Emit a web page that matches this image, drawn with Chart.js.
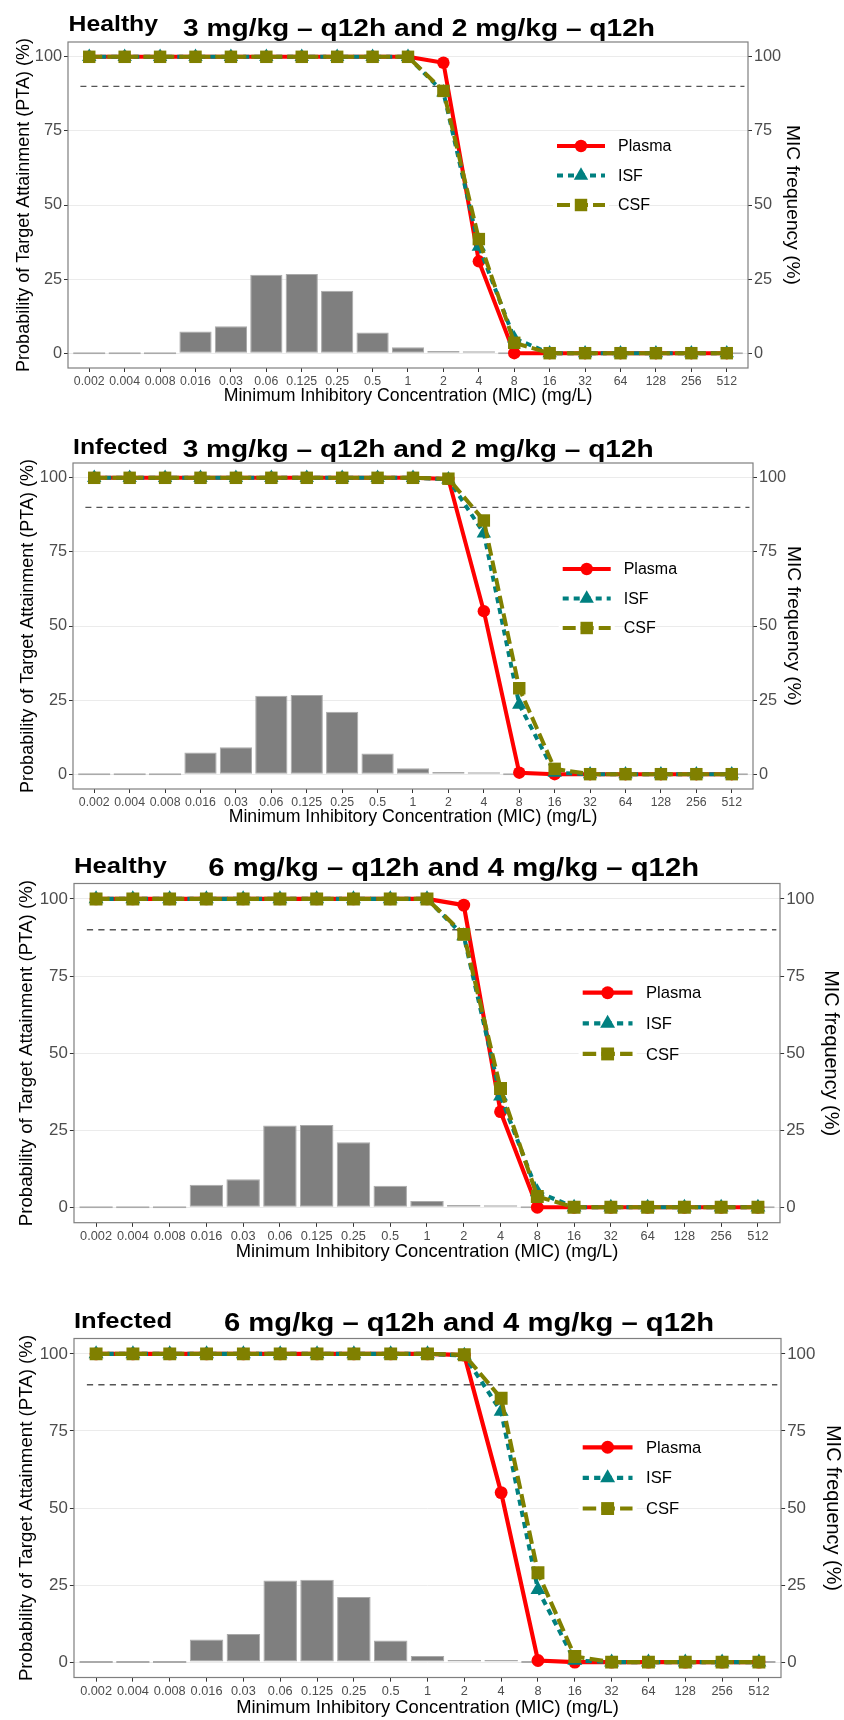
<!DOCTYPE html>
<html>
<head>
<meta charset="utf-8">
<title>PTA vs MIC</title>
<script src="https://cdn.jsdelivr.net/npm/chart.js@4.4.1/dist/chart.umd.min.js"></script>
<style>
  html, body { margin: 0; padding: 0; background: #fff; }
  #page { position: relative; width: 844px; height: 1720px; overflow: hidden; }
  .panel { position: absolute; left: 0; width: 844px; }
  .panel canvas { display: block; }
</style>
</head>
<body>
<div id="page"></div>
<script>
// MIC classes on the x axis (mg/L)
const micLabels = ['0.002', '0.004', '0.008', '0.016', '0.03', '0.06', '0.125', '0.25', '0.5',
  '1', '2', '4', '8', '16', '32', '64', '128', '256', '512'];

// Tick labels of both y axes
const yTicks = [0, 25, 50, 75, 100];

// PTA target
const targetPTA = 90;

// MIC frequency distribution (%) - same in every panel
const micFrequency = [0, 0, 0, 7.3, 9.1, 26.5, 26.7, 21.1, 7.0, 2.0, 0.7, 0.3, 0, 0, 0, 0, 0, 0, 0];

// PTA (%) - healthy
const healthyPlasma = [100, 100, 100, 100, 100, 100, 100, 100, 100, 100, 98, 31, 0, 0, 0, 0, 0, 0, 0];
const healthyISF = [100, 100, 100, 100, 100, 100, 100, 100, 100, 100, 88, 36, 5, 0, 0, 0, 0, 0, 0];
const healthyCSF = [100, 100, 100, 100, 100, 100, 100, 100, 100, 100, 88.5, 38.5, 3.5, 0, 0, 0, 0, 0, 0];

// PTA (%) - infected
const infectedPlasma = [100, 100, 100, 100, 100, 100, 100, 100, 100, 100, 99.6, 55, 0.5, 0, 0, 0, 0, 0, 0];
const infectedISF = [100, 100, 100, 100, 100, 100, 100, 100, 100, 100, 99.5, 81.3, 23.5, 0.5, 0, 0, 0, 0, 0];
const infectedCSF = [100, 100, 100, 100, 100, 100, 100, 100, 100, 100, 99.7, 85.6, 29, 1.8, 0, 0, 0, 0, 0];

// Panels (top to bottom)
const panelGroups = ['Healthy', 'Infected', 'Healthy', 'Infected'];
const panelRegimens = ['3 mg/kg – q12h and 2 mg/kg – q12h', '3 mg/kg – q12h and 2 mg/kg – q12h',
  '6 mg/kg – q12h and 4 mg/kg – q12h', '6 mg/kg – q12h and 4 mg/kg – q12h'];
const panelSeries = [
  [healthyPlasma, healthyISF, healthyCSF],
  [infectedPlasma, infectedISF, infectedCSF],
  [healthyPlasma, healthyISF, healthyCSF],
  [infectedPlasma, infectedISF, infectedCSF]
];
const seriesNames = ['Plasma', 'ISF', 'CSF'];

// Styles
const FONT = '"Liberation Sans", Arial, sans-serif';
const W = 844;
const LINE_W = 4;
const seriesStyles = [
  { color: '#ff0000', dash: [], pointStyle: 'circle', radius: 6.2 },
  { color: '#008080', dash: [6, 5], pointStyle: 'triangle', radius: 8.3 },
  { color: '#808000', dash: [13, 5], pointStyle: 'rect', radius: 8.8 }
];

// Where each panel sits on the page
const panelBoxes = [
  { top: 0, height: 410, L: 68, R: 748, T: 42, B: 368, f: 1,
    tag: { x: 68.6, base: 31, w: 89.4 }, main: { x: 183, base: 35.5, w: 472 },
    yTitleX: 24, y2TitleX: 792, xTitleY: 396.5, legend: { x: 557, y: 146 } },
  { top: 410, height: 420, L: 73, R: 753, T: 463, B: 789, f: 1,
    tag: { x: 73, base: 454, w: 95 }, main: { x: 182.7, base: 457.3, w: 471 },
    yTitleX: 28.5, y2TitleX: 793, xTitleY: 817.5, legend: { x: 562.7, y: 569 } },
  { top: 830, height: 435, L: 74, R: 780, T: 883.5, B: 1222.7, f: 1.038,
    tag: { x: 74, base: 873.3, w: 92.7 }, main: { x: 208.3, base: 876, w: 490.7 },
    yTitleX: 26.7, y2TitleX: 830.7, xTitleY: 1252, legend: { x: 582.7, y: 992.7 } },
  { top: 1265, height: 455, L: 74, R: 781, T: 1338.5, B: 1677.5, f: 1.038,
    tag: { x: 74, base: 1328.3, w: 98 }, main: { x: 224, base: 1330.7, w: 490 },
    yTitleX: 26.7, y2TitleX: 832.3, xTitleY: 1707.7, legend: { x: 582.7, y: 1447.3 } }
];

// Marker shapes (same geometry as Chart.js point styles)
function drawMarker(ctx, style, r, x, y) {
  ctx.beginPath();
  if (style === 'circle') {
    ctx.arc(x, y, r, 0, Math.PI * 2);
  } else if (style === 'triangle') {
    ctx.moveTo(x, y - r);
    ctx.lineTo(x + r * Math.sin(2 * Math.PI / 3), y + r / 2);
    ctx.lineTo(x - r * Math.sin(2 * Math.PI / 3), y + r / 2);
    ctx.closePath();
  } else {
    const s = Math.SQRT1_2 * r;
    ctx.rect(x - s, y - s, 2 * s, 2 * s);
  }
  ctx.fill();
}

// Bold titles, squeezed/stretched to the measured width
function titleText(ctx, text, x, baseY, size, width) {
  ctx.save();
  ctx.font = 'bold ' + size + 'px ' + FONT;
  const sx = width / ctx.measureText(text).width;
  ctx.translate(x, baseY);
  ctx.scale(sx, 1);
  ctx.fillStyle = '#000';
  ctx.textAlign = 'left';
  ctx.textBaseline = 'alphabetic';
  ctx.fillText(text, 0, 0);
  ctx.restore();
}

function makeDecor(box, k) {
  const f = box.f;
  return {
    id: 'decor' + k,
    beforeDatasetsDraw(chart) {
      // dashed 90 % target line
      const { ctx, scales: { x, y } } = chart;
      const yy = y.getPixelForValue(targetPTA);
      ctx.save();
      ctx.strokeStyle = '#555';
      ctx.lineWidth = 1.3;
      ctx.setLineDash([6 * f, 5 * f]);
      ctx.beginPath();
      ctx.moveTo(x.getPixelForValue(-0.25), yy);
      ctx.lineTo(x.getPixelForValue(18.5), yy);
      ctx.stroke();
      ctx.restore();
    },
    afterDatasetsDraw(chart) {
      const { ctx, chartArea: a } = chart;
      // panel border
      ctx.save();
      ctx.strokeStyle = '#7f7f7f';
      ctx.lineWidth = 1.2;
      ctx.strokeRect(a.left, a.top, a.right - a.left, a.bottom - a.top);

      // legend inside the panel
      const lines = chart.data.datasets.filter(d => d.type === 'line');
      const x0 = box.legend.x;
      const y0 = box.legend.y - box.top;
      const keyLen = 48 * f;
      const row = 29.5 * f;
      ctx.fillStyle = '#fff';
      ctx.fillRect(x0 - 4 * f, y0 - row / 2, keyLen + 8 * f, row * lines.length);
      lines.forEach((d, i) => {
        const st = seriesStyles[i];
        const yy = y0 + i * row;
        ctx.strokeStyle = st.color;
        ctx.lineWidth = LINE_W * f;
        ctx.setLineDash(st.dash.map(v => v * f));
        ctx.beginPath();
        ctx.moveTo(x0, yy);
        ctx.lineTo(x0 + keyLen, yy);
        ctx.stroke();
        ctx.setLineDash([]);
        ctx.fillStyle = st.color;
        drawMarker(ctx, st.pointStyle, st.radius * f, x0 + keyLen / 2, yy);
        ctx.fillStyle = '#000';
        ctx.font = (16 * f) + 'px ' + FONT;
        ctx.textAlign = 'left';
        ctx.textBaseline = 'middle';
        ctx.fillText(d.label, x0 + 61 * f, yy + 1);
      });
      ctx.restore();
    },
    afterDraw(chart) {
      const ctx = chart.ctx;
      titleText(ctx, panelGroups[k], box.tag.x, box.tag.base - box.top, 21.5 * f, box.tag.w);
      titleText(ctx, panelRegimens[k], box.main.x, box.main.base - box.top, 24.7 * f, box.main.w);
    }
  };
}

const page = document.getElementById('page');

panelBoxes.forEach((box, k) => {
  const f = box.f;
  const wrap = document.createElement('div');
  wrap.className = 'panel';
  wrap.style.top = box.top + 'px';
  wrap.style.height = box.height + 'px';
  const cv = document.createElement('canvas');
  cv.width = W;
  cv.height = box.height;
  cv.style.width = W + 'px';
  cv.style.height = box.height + 'px';
  wrap.appendChild(cv);
  page.appendChild(wrap);

  const yTitleSize = 18 * f, y2TitleSize = 19.2 * f, xTitleSize = 17.7 * f;

  const lineSets = panelSeries[k].map((vals, i) => {
    const st = seriesStyles[i];
    return {
      type: 'line',
      label: seriesNames[i],
      data: micLabels.map((_, j) => ({ x: j, y: vals[j] })),
      yAxisID: 'y',
      borderColor: st.color,
      backgroundColor: st.color,
      borderWidth: LINE_W * f,
      borderDash: st.dash.map(v => v * f),
      tension: 0,
      fill: false,
      pointStyle: st.pointStyle,
      pointRadius: st.radius * f,
      pointBackgroundColor: st.color,
      pointBorderWidth: 0,
      order: 3 - i
    };
  });

  new Chart(cv, {
    type: 'bar',
    data: {
      datasets: [{
        type: 'bar',
        label: 'MIC frequency',
        data: micLabels.map((_, j) => ({ x: j, y: micFrequency[j] })),
        yAxisID: 'y2',
        backgroundColor: '#7f7f7f',
        borderColor: '#aaaaaa',
        borderWidth: 1,
        borderSkipped: false,
        minBarLength: 2,
        barPercentage: 0.91,
        categoryPercentage: 1,
        order: 4
      }, ...lineSets]
    },
    options: {
      responsive: false,
      animation: false,
      events: [],
      layout: { autoPadding: false, padding: { top: box.T - box.top, left: 0, right: 0, bottom: 0 } },
      plugins: { legend: { display: false }, tooltip: { enabled: false }, title: { display: false } },
      scales: {
        x: {
          type: 'linear',
          min: -0.6,
          max: micLabels.length - 0.4,
          offset: false,
          afterBuildTicks: s => { s.ticks = micLabels.map((_, j) => ({ value: j })); },
          afterFit: s => { s.height = box.top + box.height - box.B; },
          grid: { display: true, offset: false, drawOnChartArea: false, drawTicks: true,
            tickLength: 4 * f, tickColor: '#333', tickWidth: 1 },
          border: { display: false },
          ticks: {
            autoSkip: false, maxRotation: 0, padding: 2,
            color: '#4d4d4d', font: { family: FONT, size: 12.3 * f },
            callback: v => micLabels[v]
          },
          title: {
            display: true, text: 'Minimum Inhibitory Concentration (MIC) (mg/L)', color: '#000',
            font: { family: FONT, size: xTitleSize },
            padding: { top: 0, bottom: box.top + box.height - box.xTitleY - xTitleSize * 0.6 }
          }
        },
        y: {
          position: 'left',
          min: -5, max: 105,
          afterBuildTicks: s => { s.ticks = yTicks.map(v => ({ value: v })); },
          afterFit: s => { s.width = box.L; },
          grid: { color: '#ebebeb', lineWidth: 1, drawTicks: true, tickLength: 4 * f,
            tickColor: '#333', tickWidth: 1 },
          border: { display: false },
          ticks: { padding: 2, color: '#4d4d4d', font: { family: FONT, size: 16.3 * f } },
          title: {
            display: true, text: 'Probability of Target Attainment (PTA) (%)', color: '#000',
            font: { family: FONT, size: yTitleSize },
            padding: { top: box.yTitleX - yTitleSize * 0.6, bottom: 0 }
          }
        },
        y2: {
          position: 'right',
          min: -5, max: 105,
          afterBuildTicks: s => { s.ticks = yTicks.map(v => ({ value: v })); },
          afterFit: s => { s.width = W - box.R; },
          grid: { display: true, drawOnChartArea: false, drawTicks: true, tickLength: 4 * f,
            tickColor: '#333', tickWidth: 1 },
          border: { display: false },
          ticks: { padding: 2, color: '#4d4d4d', font: { family: FONT, size: 16.3 * f } },
          title: {
            display: true, text: 'MIC frequency (%)', color: '#000',
            font: { family: FONT, size: y2TitleSize },
            padding: { top: W - box.y2TitleX - y2TitleSize * 0.6, bottom: 0 }
          }
        }
      }
    },
    plugins: [makeDecor(box, k)]
  });
});
</script>
</body>
</html>
